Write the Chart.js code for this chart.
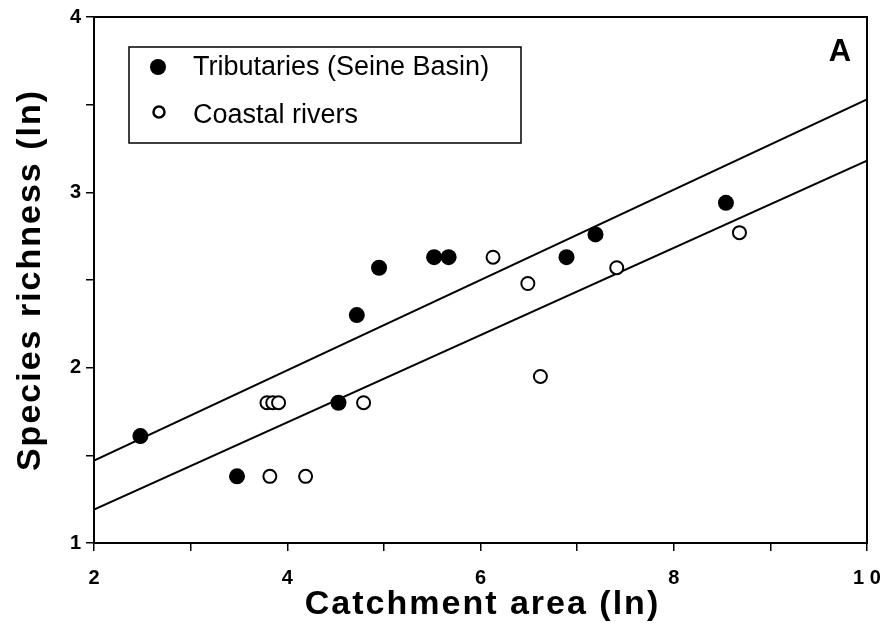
<!DOCTYPE html>
<html>
<head>
<meta charset="utf-8">
<script src="https://cdn.jsdelivr.net/npm/chart.js@4/dist/chart.umd.min.js"></script>
<style>
    html, body { margin: 0; padding: 0; background: #fff; }
    #wrap { width: 883px; height: 624px; }
</style>
</head>
<body>
<div id="wrap"><canvas id="richnessChart" width="883" height="624"></canvas></div>
<script>
// values (ln scale on both axes)
const tribX = [2.48, 3.48, 4.53, 4.72, 4.95, 5.52, 5.67, 6.89, 7.19, 8.54];
const tribY = [1.61, 1.38, 1.80, 2.30, 2.57, 2.63, 2.63, 2.63, 2.76, 2.94];
const coastX = [3.79, 3.85, 3.91, 3.82, 4.19, 4.79, 6.13, 6.49, 6.62, 7.41, 8.68];
const coastY = [1.80, 1.80, 1.80, 1.38, 1.38, 1.80, 2.63, 2.48, 1.95, 2.57, 2.77];
const fitX = [2, 10];
const upperFitY = [1.47, 3.53];
const lowerFitY = [1.19, 3.18];
const xTickLabels = [2, 4, 6, 8, 10];
const yTickLabels = [1, 2, 3, 4];
const seriesNames = ['Tributaries (Seine Basin)', 'Coastal rivers'];
const xTitle = 'Catchment area (ln)';
const yTitle = 'Species richness (ln)';

const toPoints = (xs, ys) => xs.map((x, i) => ({ x: x, y: ys[i] }));

const FONT = '"Liberation Sans", Arial, Helvetica, sans-serif';

// frame, inset legend, panel letter and the (wide, spaced) axis titles
const framePlugin = {
    id: 'frameAndLegend',
    afterDatasetsDraw(chart) {
        const { ctx, chartArea } = chart;
        ctx.save();
        ctx.strokeStyle = '#000';
        ctx.fillStyle = '#000';
        ctx.lineWidth = 2;
        ctx.strokeRect(chartArea.left, chartArea.top, chartArea.right - chartArea.left, chartArea.bottom - chartArea.top);

        // legend box
        ctx.lineWidth = 1.5;
        ctx.strokeRect(129, 47, 392, 96);
        ctx.font = '27px ' + FONT;
        ctx.textBaseline = 'alphabetic';
        ctx.textAlign = 'left';
        ctx.beginPath();
        ctx.arc(158, 67, 8, 0, Math.PI * 2);
        ctx.fill();
        ctx.fillText(seriesNames[0], 193, 75);
        ctx.beginPath();
        ctx.arc(159, 112, 5.5, 0, Math.PI * 2);
        ctx.lineWidth = 2.5;
        ctx.stroke();
        ctx.fillText(seriesNames[1], 193, 123);

        // panel letter
        ctx.font = 'bold 31px ' + FONT;
        ctx.textAlign = 'center';
        ctx.textBaseline = 'middle';
        ctx.fillText('A', 840, 52);

        // axis titles
        ctx.font = 'bold 34px ' + FONT;
        ctx.letterSpacing = '2px';
        const cx = (chartArea.left + chartArea.right) / 2;
        ctx.fillText(xTitle, cx + 2, 605);
        ctx.translate(31, (chartArea.top + chartArea.bottom) / 2);
        ctx.rotate(-Math.PI / 2);
        ctx.fillText(yTitle, 0, 0);
        ctx.letterSpacing = '0px';
        ctx.restore();
    }
};

new Chart(document.getElementById('richnessChart').getContext('2d'), {
    type: 'scatter',
    data: {
        datasets: [
            {
                label: seriesNames[0],
                data: toPoints(tribX, tribY),
                pointRadius: 8,
                pointBackgroundColor: '#000',
                pointBorderColor: '#000',
                pointBorderWidth: 0
            },
            {
                label: seriesNames[1],
                data: toPoints(coastX, coastY),
                pointRadius: 6.5,
                pointBackgroundColor: '#fff',
                pointBorderColor: '#000',
                pointBorderWidth: 2
            },
            {
                label: 'upper fit',
                data: toPoints(fitX, upperFitY),
                showLine: true,
                pointRadius: 0,
                borderColor: '#000',
                borderWidth: 2
            },
            {
                label: 'lower fit',
                data: toPoints(fitX, lowerFitY),
                showLine: true,
                pointRadius: 0,
                borderColor: '#000',
                borderWidth: 2
            }
        ]
    },
    options: {
        responsive: false,
        animation: false,
        layout: { padding: { top: 17, right: 16, left: 0, bottom: 0 } },
        plugins: {
            legend: { display: false },
            tooltip: { enabled: false }
        },
        scales: {
            x: {
                type: 'linear',
                min: 2,
                max: 10,
                afterFit: (scale) => {
                    scale.height = 81;
                    scale.paddingLeft = 0;
                    scale.paddingRight = 0;
                },
                border: { display: true, color: '#000', width: 2 },
                grid: { drawOnChartArea: false, drawTicks: true, tickLength: 8, color: '#000', lineWidth: 1.5 },
                ticks: {
                    stepSize: 1,
                    padding: 15,
                    color: '#000',
                    font: { family: FONT, size: 20, weight: 'bold' },
                    maxRotation: 0,
                    autoSkip: false,
                    callback: (v) => xTickLabels.includes(v) ? (v === 10 ? '1 0' : String(v)) : ''
                }
            },
            y: {
                type: 'linear',
                min: 1,
                max: 4,
                afterFit: (scale) => {
                    scale.width = 94;
                    scale.paddingTop = 0;
                    scale.paddingBottom = 0;
                },
                border: { display: true, color: '#000', width: 2 },
                grid: { drawOnChartArea: false, drawTicks: true, tickLength: 8, color: '#000', lineWidth: 1.5 },
                ticks: {
                    stepSize: 0.5,
                    padding: 5,
                    color: '#000',
                    font: { family: FONT, size: 20, weight: 'bold' },
                    autoSkip: false,
                    callback: (v) => yTickLabels.includes(v) ? String(v) : ''
                }
            }
        }
    },
    plugins: [framePlugin]
});
</script>
</body>
</html>
